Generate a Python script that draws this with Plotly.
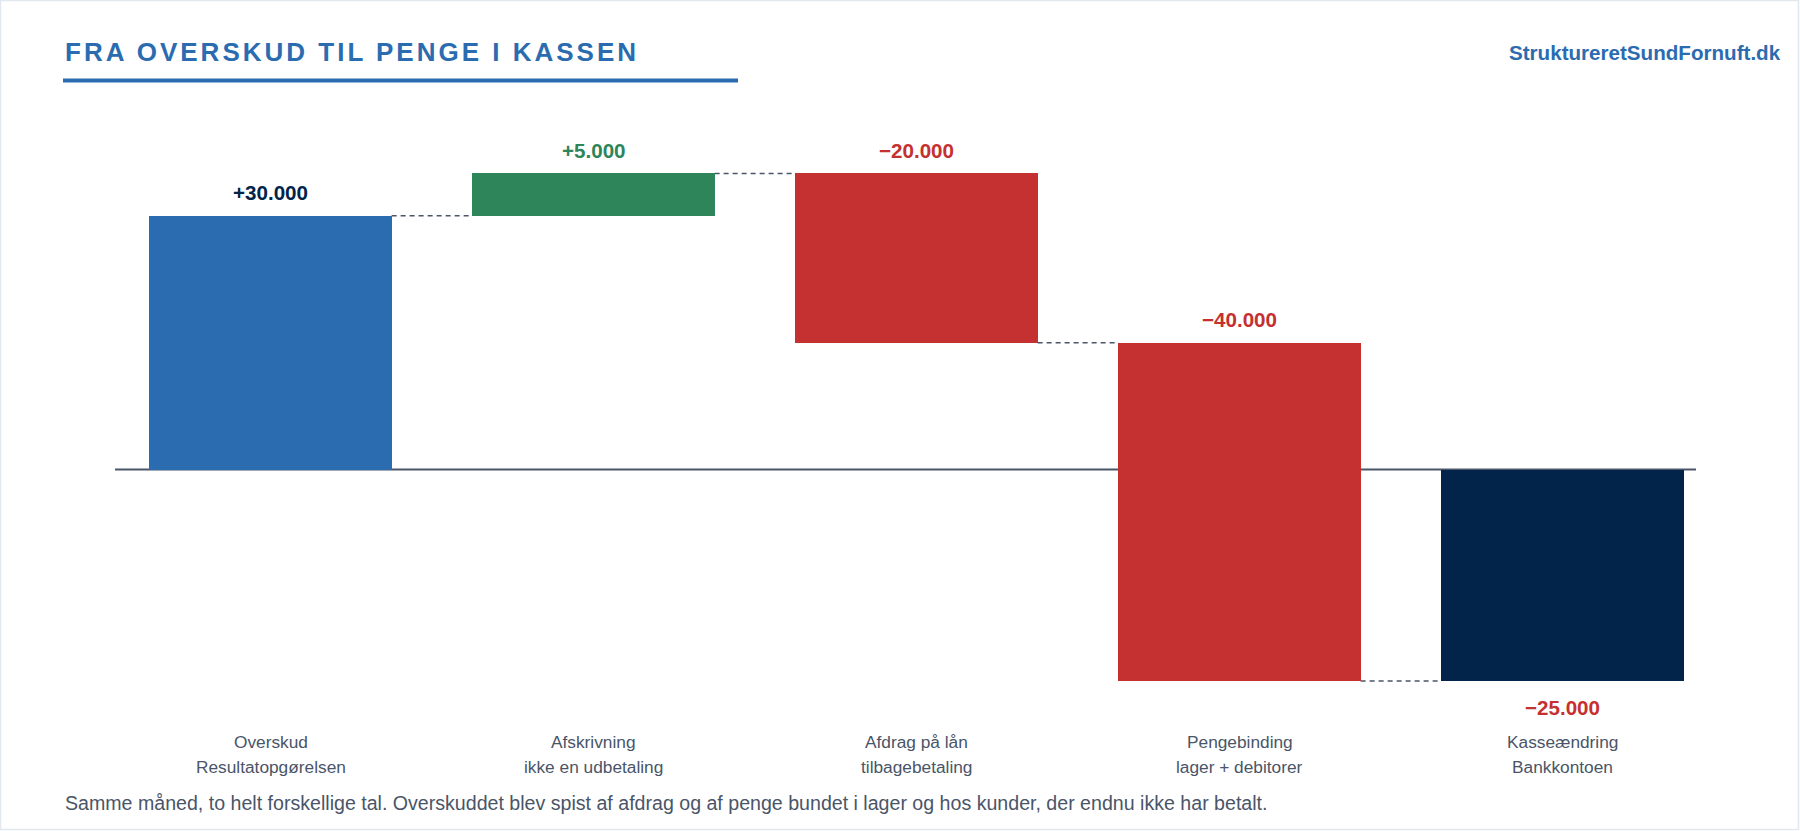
import plotly.graph_objects as go

# ---------------- data ----------------
categories_line1 = ["Overskud", "Afskrivning", "Afdrag på lån", "Pengebinding", "Kasseændring"]
categories_line2 = ["Resultatopgørelsen", "ikke en udbetaling", "tilbagebetaling", "lager + debitorer", "Bankkontoen"]
changes = [30000, 5000, -20000, -40000]          # start value followed by movements
title_text = "FRA OVERSKUD TIL PENGE I KASSEN"
site_text = "StruktureretSundFornuft.dk"
footer_text = ("Samme måned, to helt forskellige tal. Overskuddet blev spist af afdrag og af penge "
               "bundet i lager og hos kunder, der endnu ikke har betalt.")

# ---------------- styling ----------------
W, H = 1800, 831
FONT = "Liberation Sans, Arial, Helvetica, sans-serif"
BLUE = "#2b6cb0"
GREEN = "#2f855a"
RED = "#c53030"
NAVY = "#02244a"
SLATE = "#4a5568"
TEXT_GREY = "#4a5568"

# ---------------- derived waterfall geometry ----------------
total = sum(changes)
bases, heights, colors, label_colors = [], [], [], []
running = 0
for i, v in enumerate(changes):
    if i == 0:
        bases.append(0)
        heights.append(v)
        colors.append(BLUE)
        label_colors.append(NAVY)
    else:
        bases.append(running)
        heights.append(v)
        colors.append(GREEN if v >= 0 else RED)
        label_colors.append(GREEN if v >= 0 else RED)
    running += v
bases.append(0)
heights.append(total)
colors.append(NAVY)
label_colors.append(RED if total < 0 else GREEN)
values_all = changes + [total]
levels = [b + h for b, h in zip(bases, heights)]  # end level of each bar


def fmt(v):
    s = f"{abs(v):,}".replace(",", ".")
    return ("+" if v >= 0 else "\u2212") + s


xs = list(range(len(values_all)))
BAR_W = 0.75

# pixel mapping (margins are zero, so paper == page)
zero_px = 469.5
px_per_unit = 507.5 / 60000.0
y_top = zero_px / px_per_unit
y_bot = -(H - zero_px) / px_per_unit
cat_px = 323.0
first_center_px = 270.5
x_left = -first_center_px / cat_px
x_right = x_left + W / cat_px

fig = go.Figure()
fig.add_trace(go.Bar(
    x=xs, y=heights, base=bases, width=BAR_W,
    marker=dict(color=colors, line=dict(width=0)),
    hoverinfo="skip", showlegend=False,
))

shapes = []
# zero line
shapes.append(dict(type="line", xref="paper", yref="y", x0=115 / W, x1=1696 / W, y0=0, y1=0,
                   line=dict(color=SLATE, width=2), layer="below"))
# connectors
for i in range(len(values_all) - 1):
    lvl = levels[i]
    shapes.append(dict(type="line", xref="x", yref="y",
                       x0=i + BAR_W / 2, x1=i + 1 - BAR_W / 2, y0=lvl, y1=lvl,
                       line=dict(color=SLATE, width=1.5, dash="5px,4px"), layer="below"))
# title underline
shapes.append(dict(type="line", xref="paper", yref="paper", x0=63 / W, x1=738 / W,
                   y0=1 - 80.5 / H, y1=1 - 80.5 / H, line=dict(color=BLUE, width=4)))
# card border
shapes.append(dict(type="rect", xref="paper", yref="paper", x0=0.5 / W, x1=1 - 1.5 / W,
                   y0=1.5 / H, y1=1 - 0.5 / H, line=dict(color="#e2e8f0", width=1.5),
                   fillcolor="rgba(0,0,0,0)"))

annotations = []
# value labels
for i, v in enumerate(values_all):
    top = max(bases[i], bases[i] + heights[i])
    bottom = min(bases[i], bases[i] + heights[i])
    if i == len(values_all) - 1 and v < 0:
        annotations.append(dict(x=i, y=bottom, xref="x", yref="y", text=fmt(v), showarrow=False,
                                yanchor="middle", yshift=-27,
                                font=dict(family=FONT, size=20.6, color=label_colors[i], weight="bold")))
    else:
        annotations.append(dict(x=i, y=top, xref="x", yref="y", text=fmt(v), showarrow=False,
                                yanchor="middle", yshift=23,
                                font=dict(family=FONT, size=20.6, color=label_colors[i], weight="bold")))
# category labels
for i in xs:
    annotations.append(dict(x=i, y=1 - 741.6 / H, xref="x", yref="paper", text=categories_line1[i],
                            showarrow=False, yanchor="middle",
                            font=dict(family=FONT, size=17.3, color=TEXT_GREY)))
    annotations.append(dict(x=i, y=1 - 767.0 / H, xref="x", yref="paper", text=categories_line2[i],
                            showarrow=False, yanchor="middle",
                            font=dict(family=FONT, size=17.3, color=TEXT_GREY)))
# title
annotations.append(dict(x=63 / W, y=1 - 52 / H, xref="paper", yref="paper", xanchor="left",
                        yanchor="middle", showarrow=False,
                        text=f'<span style="letter-spacing:3px">{title_text}</span>',
                        font=dict(family=FONT, size=26, color=BLUE, weight="bold")))
# site
annotations.append(dict(x=1783 / W, y=1 - 53 / H, xref="paper", yref="paper", xanchor="right",
                        yanchor="middle", showarrow=False, text=site_text,
                        font=dict(family=FONT, size=20.6, color=BLUE, weight="bold")))
# footer
annotations.append(dict(x=63 / W, y=1 - 803 / H, xref="paper", yref="paper", xanchor="left",
                        yanchor="middle", showarrow=False, text=footer_text,
                        font=dict(family=FONT, size=19.6, color=TEXT_GREY)))

fig.update_layout(
    width=W, height=H,
    margin=dict(l=0, r=0, t=0, b=0, pad=0),
    paper_bgcolor="white", plot_bgcolor="white",
    xaxis=dict(visible=False, range=[x_left, x_right], fixedrange=True),
    yaxis=dict(visible=False, range=[y_bot, y_top], fixedrange=True),
    shapes=shapes, annotations=annotations,
    showlegend=False, bargap=0,
)

fig.write_html("out.html", config={"displayModeBar": False})
